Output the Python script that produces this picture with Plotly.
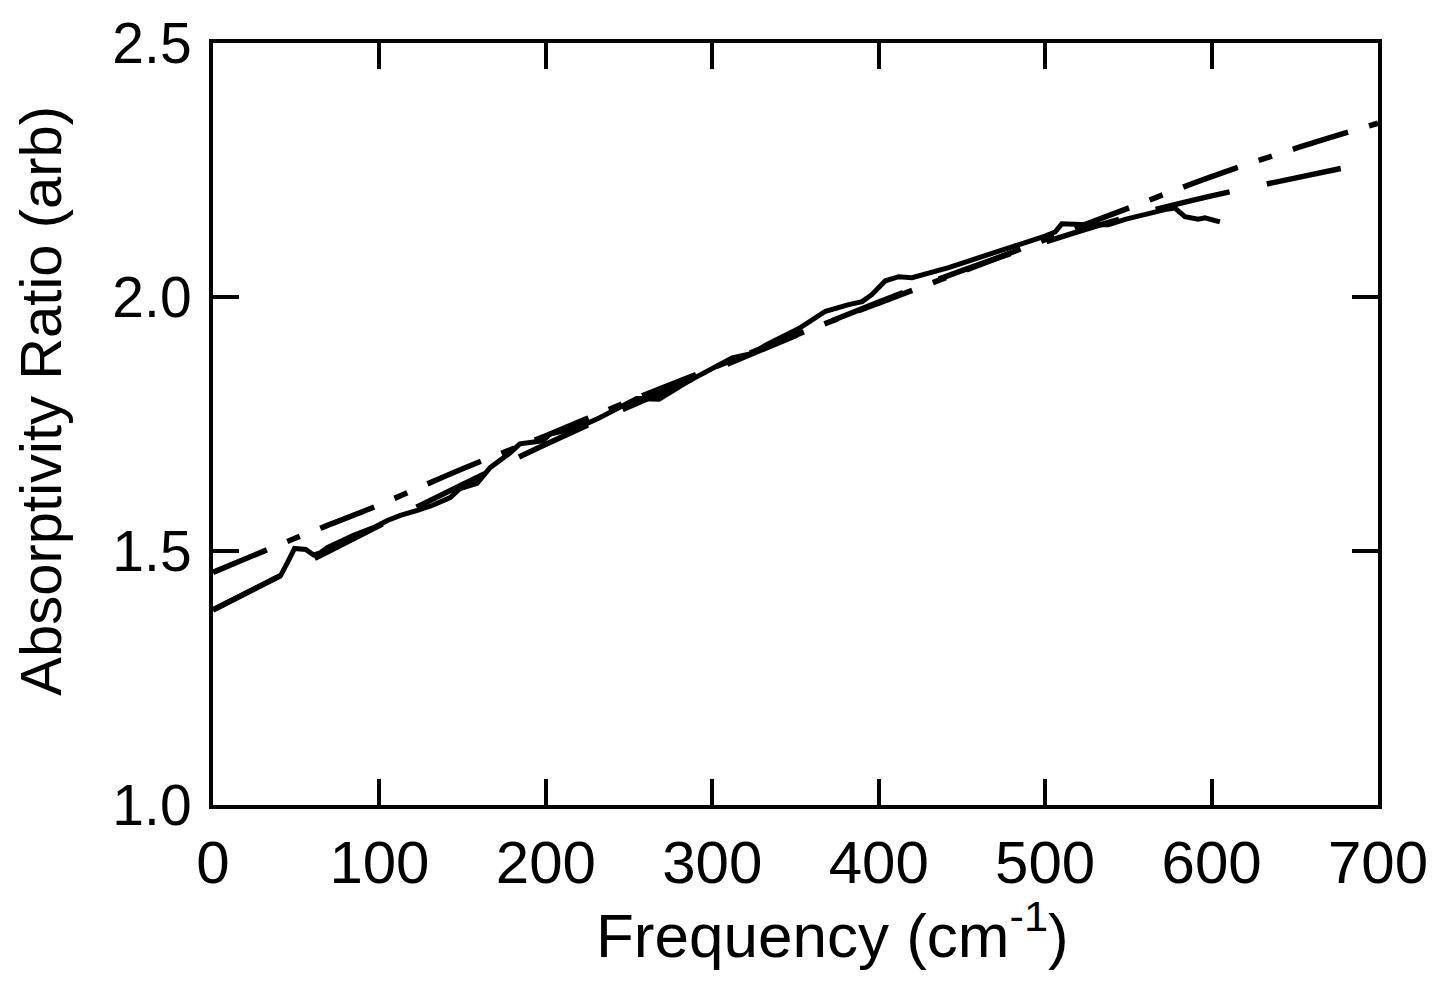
import plotly.graph_objects as go

# Measured spectrum (solid)
data_x = [0, 20, 40.7, 45.5, 49, 55.7, 60.5, 64.7, 68.9, 84.4, 96.4, 104.8, 112.6, 122.8, 132,
          142.5, 148.5, 158.7, 166.5, 178.4, 184.4, 198.2, 202.4, 218.6, 232, 254.5, 268, 286,
          292, 312, 324, 332, 352, 368, 382, 390, 396, 404, 412, 420, 442, 462, 482, 500, 506,
          510, 526, 538, 548, 562, 572, 578, 584, 592, 596, 605]
data_y = [1.384, 1.418, 1.452, 1.482, 1.505, 1.503, 1.492, 1.497, 1.507, 1.531, 1.546, 1.560,
          1.570, 1.580, 1.590, 1.605, 1.623, 1.633, 1.664, 1.693, 1.711, 1.717, 1.730, 1.742,
          1.762, 1.800, 1.799, 1.835, 1.846, 1.880, 1.889, 1.905, 1.938, 1.972, 1.985, 1.991,
          2.005, 2.032, 2.040, 2.038, 2.058, 2.079, 2.100, 2.120, 2.128, 2.144, 2.142, 2.142,
          2.153, 2.165, 2.172, 2.175, 2.158, 2.153, 2.156, 2.148]

# Dash-dot curve
dd_x = [0, 50, 100, 150, 200, 250, 300, 350, 400, 450, 500, 550, 600, 650, 700]
dd_y = [1.458, 1.526, 1.591, 1.662, 1.727, 1.795, 1.860, 1.925, 1.988, 2.050, 2.113, 2.175,
        2.237, 2.292, 2.342]

# Long-dash curve
ld_x = [0, 50, 100, 150, 200, 250, 300, 350, 400, 450, 500, 550, 600, 650, 700]
ld_y = [1.384, 1.467, 1.550, 1.631, 1.710, 1.784, 1.855, 1.924, 1.990, 2.052, 2.108, 2.158,
        2.199, 2.234, 2.268]

x_ticks = [0, 100, 200, 300, 400, 500, 600, 700]
y_ticks = [1.0, 1.5, 2.0, 2.5]
y_tick_labels = ["1.0", "1.5", "2.0", "2.5"]

x_title = "Frequency (cm<sup>-1</sup>)"
y_title = "Absorptivity Ratio (arb)"

FONT = "Liberation Sans, Arial, Helvetica, sans-serif"

fig = go.Figure()
fig.add_trace(go.Scatter(x=ld_x, y=ld_y, mode="lines", line=dict(color="black", width=5.5, dash="76px,38px"),
                         line_shape="spline", showlegend=False, hoverinfo="skip"))
fig.add_trace(go.Scatter(x=dd_x, y=dd_y, mode="lines",
                         line=dict(color="black", width=5.5, dash="58px,22px,14px,22px"),
                         line_shape="spline", showlegend=False, hoverinfo="skip"))
fig.add_trace(go.Scatter(x=data_x, y=data_y, mode="lines", line=dict(color="black", width=5),
                         showlegend=False, hoverinfo="skip"))

axis_common = dict(
    showgrid=False, zeroline=False, showline=True, linecolor="black", linewidth=4,
    mirror="allticks", ticks="inside", ticklen=26, tickwidth=3.5, tickcolor="black",
    automargin=False,
)

fig.update_xaxes(range=[0, 700], tickvals=x_ticks, ticktext=[str(v) for v in x_ticks],
                 ticklabelstandoff=2, tickfont=dict(family=FONT, size=60, color="black"),
                 **axis_common)
fig.update_yaxes(range=[1.0, 2.5], tickvals=y_ticks, ticktext=y_tick_labels,
                 ticklabelstandoff=6, tickfont=dict(family=FONT, size=57, color="black"),
                 **axis_common)

fig.add_annotation(text=x_title, xref="paper", yref="paper", x=0.532, y=-0.111,
                   xanchor="center", yanchor="top", showarrow=False,
                   font=dict(family=FONT, size=62, color="black"))
fig.add_annotation(text=y_title, xref="paper", yref="paper", x=-0.148, y=0.53,
                   xanchor="center", yanchor="middle", showarrow=False, textangle=-90,
                   font=dict(family=FONT, size=58, color="black"))

fig.update_layout(
    width=1448, height=982,
    margin=dict(l=205, r=78, t=35, b=185),
    paper_bgcolor="white", plot_bgcolor="white",
)

fig.write_html("out.html")
